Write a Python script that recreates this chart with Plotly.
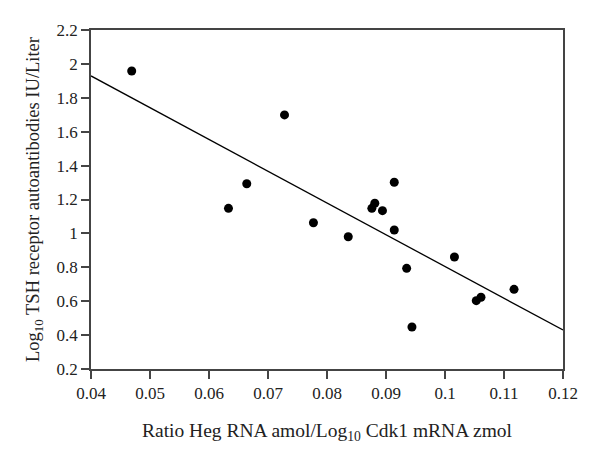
import plotly.graph_objects as go

# Scatter data
ratio_x = [0.0469, 0.0633, 0.0664, 0.0728, 0.0777, 0.0836, 0.0876, 0.0881, 0.0894,
           0.0914, 0.0914, 0.0935, 0.0944, 0.1016, 0.1053, 0.1061, 0.1117]
log_tsh_y = [1.958, 1.148, 1.293, 1.699, 1.063, 0.980, 1.148, 1.178, 1.134,
             1.302, 1.020, 0.794, 0.448, 0.861, 0.603, 0.623, 0.670]

# Regression line (endpoints)
fit_x = [0.04, 0.12]
fit_y = [1.929, 0.430]

x_ticks = [0.04, 0.05, 0.06, 0.07, 0.08, 0.09, 0.1, 0.11, 0.12]
x_tick_text = ["0.04", "0.05", "0.06", "0.07", "0.08", "0.09", "0.1", "0.11", "0.12"]
y_ticks = [0.2, 0.4, 0.6, 0.8, 1.0, 1.2, 1.4, 1.6, 1.8, 2.0, 2.2]
y_tick_text = ["0.2", "0.4", "0.6", "0.8", "1", "1.2", "1.4", "1.6", "1.8", "2", "2.2"]

font_family = "Liberation Serif, Times New Roman, serif"

fig = go.Figure()
fig.add_trace(go.Scatter(x=fit_x, y=fit_y, mode="lines",
                         line=dict(color="black", width=1.3),
                         showlegend=False, hoverinfo="skip"))
fig.add_trace(go.Scatter(x=ratio_x, y=log_tsh_y, mode="markers",
                         marker=dict(color="black", size=9),
                         showlegend=False))

axis_common = dict(showgrid=False, zeroline=False, showline=True,
                   linecolor="#444444", linewidth=1.6, mirror=True,
                   ticks="outside", ticklen=8, tickwidth=1.6, tickcolor="#444444",
                   tickfont=dict(family=font_family, size=17, color="#222222"))

fig.update_xaxes(range=[0.04, 0.12], tickvals=x_ticks, ticktext=x_tick_text,
                 title=dict(text="Ratio Heg RNA amol/Log<sub>10</sub> Cdk1 mRNA zmol",
                            font=dict(family=font_family, size=19.5, color="#222222"),
                            standoff=21),
                 **axis_common)
fig.update_yaxes(range=[0.2, 2.2], tickvals=y_ticks, ticktext=y_tick_text,
                 title=dict(text="Log<sub>10</sub> TSH receptor autoantibodies IU/Liter",
                            font=dict(family=font_family, size=18.5, color="#222222"),
                            standoff=12),
                 **axis_common)

fig.update_layout(width=600, height=462,
                  margin=dict(l=83, r=45, t=22, b=101),
                  paper_bgcolor="white", plot_bgcolor="white")

fig.write_html("out.html")
